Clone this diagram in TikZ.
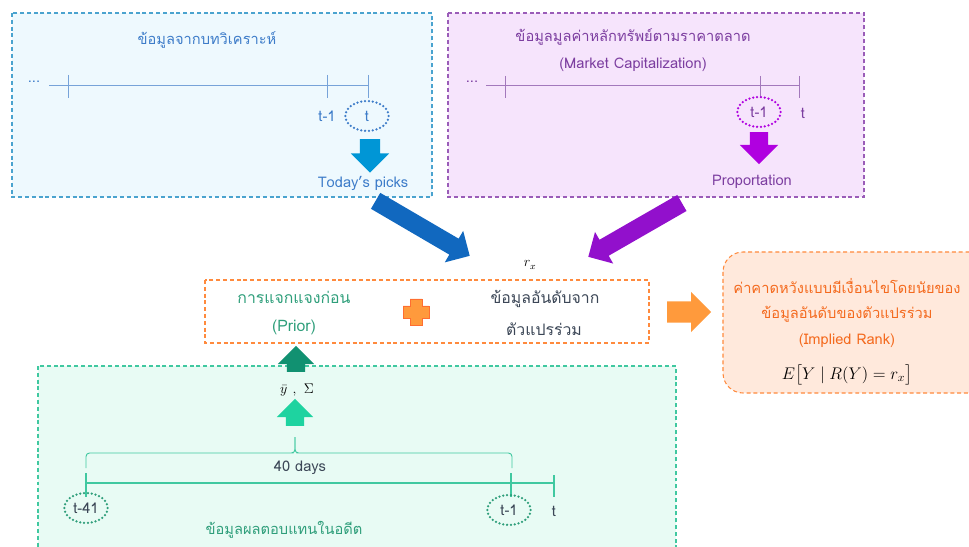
\documentclass[tikz,border=0pt]{standalone}
\usepackage{fontspec}
\setmainfont[Script=Thai]{Loma}
\usepackage{amsmath}
\usetikzlibrary{shapes.geometric,shapes.arrows,positioning,calc}
\definecolor{PickBlue}{RGB}{61,124,201}
\definecolor{PickFill}{RGB}{238,249,254}
\definecolor{PickEdge}{RGB}{74,163,207}
\definecolor{PickArrow}{RGB}{0,150,214}
\definecolor{BigBlue}{RGB}{17,104,191}
\definecolor{CapPurple}{RGB}{124,62,160}
\definecolor{CapFill}{RGB}{246,228,252}
\definecolor{CapEdge}{RGB}{154,92,184}
\definecolor{CapArrow}{RGB}{176,0,224}
\definecolor{BigPurple}{RGB}{146,16,204}
\definecolor{RankOrange}{RGB}{244,106,30}
\definecolor{RankEdge}{RGB}{255,138,61}
\definecolor{RankFill}{RGB}{255,233,220}
\definecolor{RankArrow}{RGB}{255,154,60}
\definecolor{PastGreen}{RGB}{46,158,122}
\definecolor{PastFill}{RGB}{232,251,244}
\definecolor{PastEdge}{RGB}{64,200,160}
\definecolor{DarkGreen}{RGB}{17,145,113}
\definecolor{LightGreen}{RGB}{30,211,160}
\definecolor{SlateText}{RGB}{59,70,86}

\begin{document}
\begin{tikzpicture}[x=0.3mm,y=-0.3mm,
  panel/.style={line width=0.9pt,dash pattern=on 3.4pt off 2.4pt},
  txt/.style={font=\fontsize{12.5}{15}\selectfont,inner sep=0pt},
  bigtxt/.style={font=\fontsize{13.5}{16}\selectfont,inner sep=0pt},
  blk/.style={single arrow,draw=none,inner xsep=0pt,single arrow tip angle=90},
  ring/.style={ellipse,line width=2.2pt,dash pattern=on 0pt off 3.3pt,
               line cap=round,minimum width=13mm,minimum height=9mm,
               inner sep=0pt,font=\fontsize{12.5}{15}\selectfont},
  tline/.style={line width=0.8pt},
]
\useasboundingbox (0,0) rectangle (969,547);
\clip (0,0) rectangle (969,547);

% analyst panel --- today's picks
\draw[panel,draw=PickEdge,fill=PickFill] (12,13) rectangle (432,197);
\node[txt,text=PickBlue] (picktitle) at (207,40) {ข้อมูลจากบทวิเคราะห์};
\node[txt,text=PickBlue] (pickdots) at (34,82) {...};
\coordinate (pa) at (49,85);
\coordinate (pb) at (368,85);
\draw[tline,PickBlue!70] (pa) -- (pb);
\foreach \x in {68,327,368}
  \draw[tline,PickBlue!70] (\x,75) -- (\x,98);
\node[txt,text=PickBlue] (pickprev) at (327,116) {t-1};
\node[ring,draw=PickBlue,text=PickBlue] (pickt) at (367,116) {t};
\node[blk,fill=PickArrow,minimum height=10mm,inner ysep=3mm,
      single arrow head extend=2.7mm,rotate=-90,anchor=tail] (pickdown) at (370,139) {};
\node[txt,text=PickBlue] (picks) at (363,183) {Today's picks};

% market cap panel --- proportion
\draw[panel,draw=CapEdge,fill=CapFill] (448,13) rectangle (864,197);
\node[txt,text=CapPurple] (captitle) at (633,37) {ข้อมูลมูลค่าหลักทรัพย์ตามราคาตลาด};
\node[txt,text=CapPurple] (capsub) at (633,65) {(Market Capitalization)};
\node[txt,text=CapPurple] (capdots) at (472,82) {...};
\coordinate (ca) at (486,85);
\coordinate (cb) at (799,85);
\draw[tline,CapPurple!70] (ca) -- (cb);
\foreach \x in {505,760,799}
  \draw[tline,CapPurple!70] (\x,76) -- (\x,98);
\node[ring,draw=CapArrow,text=CapPurple] (capprev) at (759,112) {t-1};
\node[txt,text=CapPurple] (capt) at (803,113) {t};
\node[blk,fill=CapArrow,minimum height=9.6mm,inner ysep=2.7mm,
      single arrow head extend=3mm,rotate=-90,anchor=tail] (capdown) at (759,132) {};
\node[txt,text=CapPurple] (prop) at (752,182) {Proportation};

% big arrows into rank data
\node[blk,fill=BigBlue,minimum height=32.7mm,inner ysep=2.7mm,
      single arrow head extend=2.7mm,rotate=-30.3,anchor=tip] (bluein) at (470,256) {};
\node[blk,fill=BigPurple,minimum height=32.4mm,inner ysep=2.7mm,
      single arrow head extend=2.7mm,rotate=-150.1,anchor=tip] (purplein) at (588,257) {};
\node[inner sep=0pt,font=\fontsize{12}{14}\selectfont] (rx) at (530,265) {$r_x$};

% middle box --- prior + rank data
\draw[panel,draw=RankEdge] (205,280) rectangle (649,343);
\node[bigtxt,text=PastGreen] (prior) at (294,297) {การแจกแจงก่อน};
\node[bigtxt,text=PastGreen] (priorsub) at (294,327) {(Prior)};
\node[bigtxt,text=SlateText] (rank) at (545,299) {ข้อมูลอันดับจาก};
\node[bigtxt,text=SlateText] (ranksub) at (544,329) {ตัวแปรร่วม};
\coordinate (plus) at (416,312);
\fill[RankArrow,draw=RankEdge!80!red,line width=0.4pt]
  ($(plus)+(-6,-13)$) -- ($(plus)+(6,-13)$) -- ($(plus)+(6,-6)$) -- ($(plus)+(13,-6)$)
  -- ($(plus)+(13,6)$) -- ($(plus)+(6,6)$) -- ($(plus)+(6,13)$) -- ($(plus)+(-6,13)$)
  -- ($(plus)+(-6,6)$) -- ($(plus)+(-13,6)$) -- ($(plus)+(-13,-6)$) -- ($(plus)+(-6,-6)$) -- cycle;

% result --- implied rank
\node[blk,fill=RankArrow,minimum height=13.2mm,inner ysep=3.15mm,
      single arrow head extend=2.85mm,anchor=tail] (toresult) at (667,312) {};
\draw[panel,draw=RankEdge,fill=RankFill,rounded corners=6mm] (723,252) rectangle (1000,393);
\node[txt,text=RankOrange] (res1) at (847,286) {ค่าคาดหวังแบบมีเงื่อนไขโดยนัยของ};
\node[txt,text=RankOrange] (res2) at (847,314) {ข้อมูลอันดับของตัวแปรร่วม};
\node[txt,text=RankOrange] (res3) at (847,341) {(Implied Rank)};
\node[inner sep=0pt,font=\fontsize{14}{16}\selectfont] (res4) at (847,375) {$E\bigl[Y \mid R(Y) = r_x\bigr]$};

% past returns panel
\draw[panel,draw=PastEdge,fill=PastFill] (38,366) rectangle (676,560);
\node[blk,fill=DarkGreen,minimum height=7.8mm,inner ysep=2.7mm,
      single arrow head extend=2.7mm,rotate=90,anchor=tail] (priorup) at (296,372) {};
\node[inner sep=0pt,font=\fontsize{13}{15}\selectfont] (stats) at (297,390) {$\bar{y}\ ,\ \Sigma$};
\node[blk,fill=LightGreen,minimum height=8.1mm,inner ysep=2.7mm,
      single arrow head extend=2.7mm,rotate=90,anchor=tail] (statsup) at (295,426) {};
\coordinate (bl) at (86,468);
\coordinate (br) at (512,468);
\coordinate (btip) at (295,437);
\draw[tline,PastEdge,rounded corners=3pt] (bl) |- ($(btip)+(-5,16)$) -| (btip);
\draw[tline,PastEdge,rounded corners=3pt] (br) |- ($(btip)+(5,16)$) -| (btip);
\node[txt,text=SlateText] (days) at (300,468) {40 days};
\coordinate (ga) at (86,483);
\coordinate (gb) at (554,483);
\draw[line width=1.2pt,PastEdge] (ga) -- (gb);
\foreach \x/\y in {86/473,511/473,554/475}
  \draw[line width=1.2pt,PastEdge] (\x,\y) -- (\x,497);
\node[ring,draw=PastGreen,text=SlateText] (first) at (86,508) {t-41};
\node[ring,draw=PastGreen,text=SlateText] (last) at (509,510) {t-1};
\node[txt,text=SlateText] (pastt) at (554,511) {t};
\node[txt,text=PastGreen] (pasttitle) at (284,530) {ข้อมูลผลตอบแทนในอดีต};
\end{tikzpicture}
\end{document}
